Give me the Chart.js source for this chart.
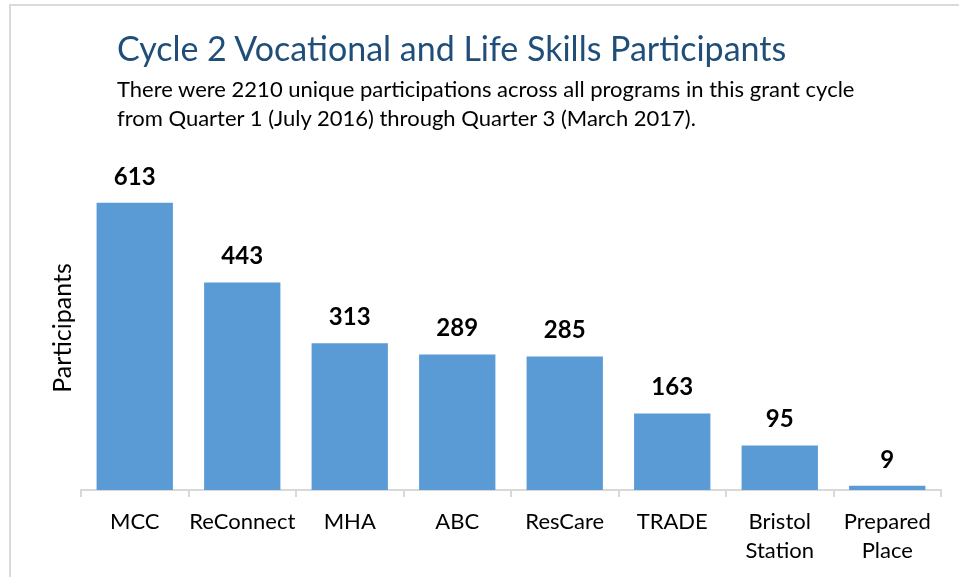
<!DOCTYPE html>
<html>
<head>
<meta charset="utf-8">
<script src="https://cdn.jsdelivr.net/npm/chart.js@4/dist/chart.umd.min.js"></script>
<style>
  html, body { margin: 0; padding: 0; background: #fff; width: 959px; height: 577px; overflow: hidden; }
  #frame { position: absolute; left: 9px; top: 4px; width: 960px; height: 600px;
           border-top: 2px solid #dadada; border-left: 2px solid #dadada; }
  #title { position: absolute; left: 117px; top: 28px; font-family: Lato, sans-serif;
           font-size: 34px; line-height: 40px; color: #1f4e79; white-space: nowrap; }
  #sub { position: absolute; left: 117px; top: 74px; font-family: Lato, sans-serif;
         font-size: 22px; line-height: 29px; color: #000; white-space: nowrap; }
  #wrap { position: absolute; left: 0; top: 0; width: 959px; height: 577px; }
</style>
</head>
<body>
<div id="frame"></div>
<div id="wrap"><canvas id="chart"></canvas></div>
<div id="title">Cycle 2 Vocational and Life Skills Participants</div>
<div id="sub">There were 2210 unique participations across all programs in this grant cycle<br>from Quarter 1 (July 2016) through Quarter 3 (March 2017).</div>
<script>
const programs = ["MCC", "ReConnect", "MHA", "ABC", "ResCare", "TRADE", ["Bristol", "Station"], ["Prepared", "Place"]];
const participants = [613, 443, 313, 289, 285, 163, 95, 9];
const yAxisTitle = "Participants";

// value labels above each bar + rotated axis title
const barLabels = {
    id: "barLabels",
    afterDatasetsDraw(chart) {
        const ctx = chart.ctx;
        const meta = chart.getDatasetMeta(0);
        ctx.save();
        ctx.fillStyle = "#000";
        ctx.font = "bold 24px Lato";
        ctx.textAlign = "center";
        ctx.textBaseline = "middle";
        meta.data.forEach((bar, i) => {
            ctx.fillText(participants[i], bar.x, bar.y - 26);
        });
        const area = chart.chartArea;
        ctx.translate(63, (area.top + area.bottom) / 2 + 2);
        ctx.rotate(-Math.PI / 2);
        ctx.font = "25px Lato";
        ctx.fillText(yAxisTitle, 0, 0);
        ctx.restore();
    }
};

new Chart(document.getElementById("chart"), {
    type: "bar",
    data: {
        labels: programs,
        datasets: [{
            data: participants,
            backgroundColor: "#5b9bd5",
            barPercentage: 0.71,
            categoryPercentage: 1
        }]
    },
    options: {
        responsive: true,
        maintainAspectRatio: false,
        animation: false,
        layout: { padding: { left: 81, right: 18, top: 162, bottom: 0 } },
        plugins: { legend: { display: false }, tooltip: { enabled: false } },
        scales: {
            x: {
                afterFit(scale) { scale.height = 87; },
                grid: { drawOnChartArea: false, tickLength: 7, color: "#d9d9d9", lineWidth: 2 },
                border: { color: "#d9d9d9", width: 2 },
                ticks: { color: "#000", font: { family: "Lato", size: 22, lineHeight: 29 / 22 }, padding: 10, maxRotation: 0, autoSkip: false }
            },
            y: { display: false, min: 0, max: 700 }
        }
    },
    plugins: [barLabels]
});
</script>
</body>
</html>
